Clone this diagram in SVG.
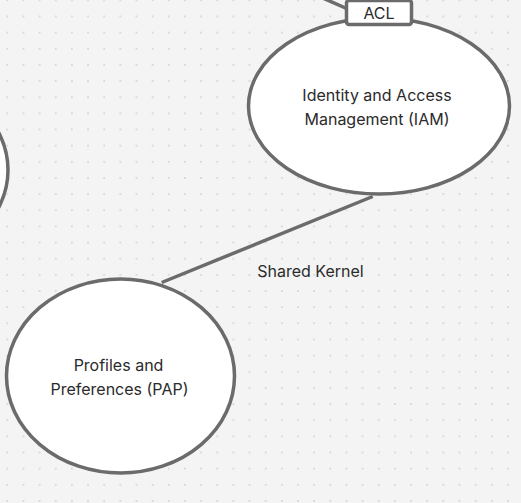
<svg xmlns="http://www.w3.org/2000/svg" width="521" height="503" viewBox="0 0 521 503">
<defs>
<pattern id="dots" x="7.3" y="0.3" width="16.15" height="16.15" patternUnits="userSpaceOnUse">
<rect x="-0.7" y="-0.7" width="1.4" height="1.4" fill="#c4c4c4"/>
<rect x="15.45" y="-0.7" width="1.4" height="1.4" fill="#c4c4c4"/>
<rect x="-0.7" y="15.45" width="1.4" height="1.4" fill="#c4c4c4"/>
<rect x="15.45" y="15.45" width="1.4" height="1.4" fill="#c4c4c4"/>
</pattern>
<style>
.node{fill:#ffffff;stroke:#6b6b6b;stroke-width:3.5}
.edge{fill:none;stroke:#6b6b6b;stroke-width:3.5}
.lbl{font-family:Inter,"Liberation Sans",sans-serif;font-size:16px;fill:#2b2b2b;text-anchor:middle}
</style>
</defs>
<rect width="521" height="503" fill="#f4f4f4"/>
<rect width="521" height="503" fill="url(#dots)"/>
<g id="connectors">
<line class="edge" x1="372.7" y1="196.5" x2="161.7" y2="282.5"/>
<line class="edge" x1="300" y1="-12" x2="350" y2="10"/>
<text class="lbl" x="310.5" y="277">Shared Kernel</text>
</g>
<g id="node-left">
<ellipse class="node" cx="-107" cy="170" rx="115" ry="95"/>
</g>
<g id="node-iam">
<ellipse class="node" cx="379" cy="106" rx="130.5" ry="88"/>
<text class="lbl" x="377" y="100.5">Identity and Access</text>
<text class="lbl" x="377" y="124.5">Management (IAM)</text>
</g>
<g id="acl">
<rect x="346.5" y="0.5" width="65" height="24" rx="2.5" fill="#ffffff" stroke="#6b6b6b" stroke-width="3.5"/>
<text class="lbl" x="379" y="19">ACL</text>
</g>
<g id="node-pap">
<ellipse class="node" cx="120.5" cy="376" rx="114" ry="97"/>
<text class="lbl" x="118.5" y="370.5">Profiles and</text>
<text class="lbl" x="119.5" y="394.5">Preferences (PAP)</text>
</g>
</svg>
